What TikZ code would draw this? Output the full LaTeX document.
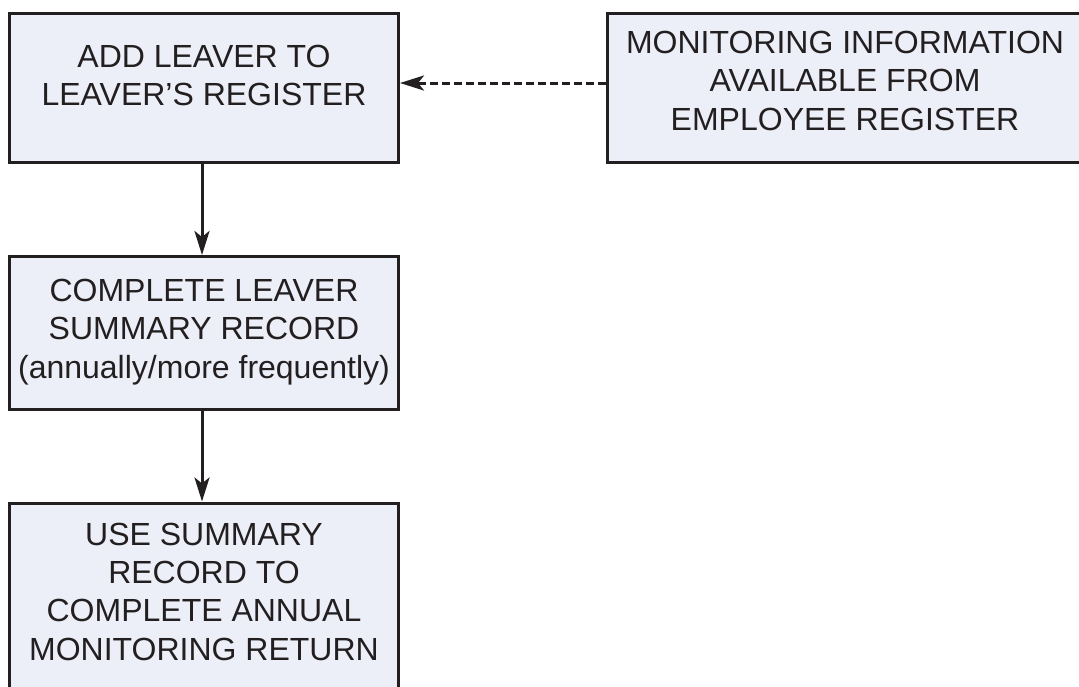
\documentclass[tikz,border=0pt]{standalone}
\usepackage{fontspec}
\setmainfont{Liberation Sans}
\usetikzlibrary{fit,arrows.meta}
\definecolor{ink}{HTML}{231F20}
\definecolor{boxfill}{HTML}{ECEFF7}
\tikzset{
  boxnode/.style={draw=ink, fill=boxfill, line width=3pt, inner sep=0pt, rectangle},
  txt/.style={anchor=base, align=center, text=ink, inner sep=0pt,
    font=\fontsize{32}{38.3}\selectfont},
  arr/.style={draw=ink, line width=3pt, -{Stealth[length=24pt, width=15pt, inset=6pt]}},
  darr/.style={arr, dash pattern=on 8pt off 4pt}
}
\begin{document}
\begin{tikzpicture}[x=1pt, y=-1pt]
\useasboundingbox (0,0) rectangle (1079,686);
\clip (0,0) rectangle (1079,686);
\node[boxnode, fit={(9.5,13) (398.5,162)}] (a) {};
\node[boxnode, fit={(607.5,13) (1085,162)}] (b) {};
\node[boxnode, fit={(9.5,256.5) (398.5,409.5)}] (c) {};
\node[boxnode, fit={(9.5,503) (398.5,720)}] (d) {};
\node[txt] (ta) at (204,105.5) {ADD LEAVER TO\\LEAVER’S REGISTER};
\node[txt] (tb) at (845,130) {MONITORING INFORMATION\\AVAILABLE FROM\\EMPLOYEE REGISTER};
\node[txt] (tc) at (204,378) {COMPLETE LEAVER\\SUMMARY RECORD\\(annually/more frequently)};
\node[txt] (td) at (204,660) {USE SUMMARY\\RECORD TO\\COMPLETE ANNUAL\\MONITORING RETURN};
\draw[arr] ([xshift=-2pt]a.south) -- ([xshift=-2pt]c.north);
\draw[arr] ([xshift=-2pt]c.south) -- ([xshift=-2pt]d.north);
\draw[darr] ([yshift=4.5pt]b.west) -- ([yshift=4.5pt]a.east);
\end{tikzpicture}
\end{document}
